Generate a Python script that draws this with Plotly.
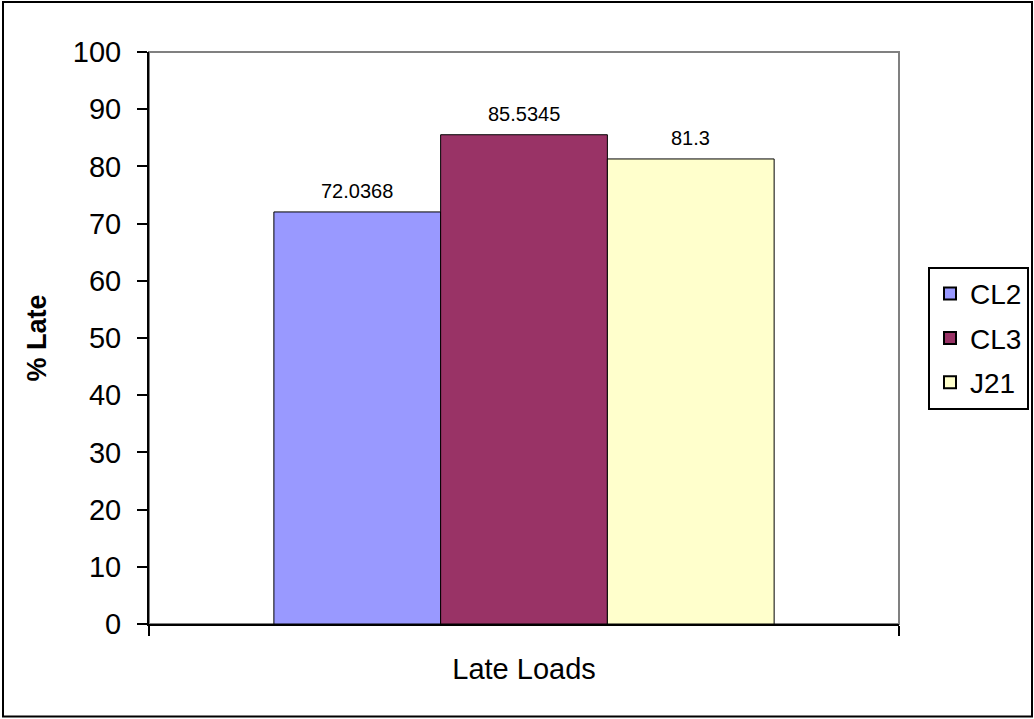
import plotly.graph_objects as go

# Share of late loads per carrier
category = ["Late Loads"]
series_names = ["CL2", "CL3", "J21"]
series_values = [72.0368, 85.5345, 81.3]
series_colors = ["#9999FF", "#993366", "#FFFFCC"]
y_ticks = [0, 10, 20, 30, 40, 50, 60, 70, 80, 90, 100]

FONT = "Liberation Sans, Arial, sans-serif"
BARGAP = 0.333

fig = go.Figure()
for name, val, col in zip(series_names, series_values, series_colors):
    fig.add_trace(go.Bar(
        name=name,
        legendgroup=name,
        x=category,
        y=[val],
        marker=dict(color=col, line=dict(color="black", width=1)),
    ))

# value labels above each bar, centred on the bar within the group
n = len(series_names)
bar_w = (1 - BARGAP) / n
annotations = []
for i, val in enumerate(series_values):
    annotations.append(dict(
        x=-(1 - BARGAP) / 2 + bar_w * (i + 0.5), y=val,
        xref="x", yref="y",
        text=f"{val:g}", showarrow=False,
        yanchor="bottom", yshift=8,
        font=dict(family=FONT, size=20, color="black"),
    ))

W, H = 1034, 719
L, R, T, B = 149, 135, 52, 94.5
pw, ph = W - L - R, H - T - B

def px_x(v):
    return (v - L) / pw

def px_y(v):
    return (H - B - v) / ph

fig.update_layout(
    width=W, height=H,
    margin=dict(l=L, r=R, t=T, b=B, pad=0, autoexpand=False),
    paper_bgcolor="white",
    plot_bgcolor="white",
    barmode="group",
    bargap=BARGAP,
    bargroupgap=0,
    font=dict(family=FONT, color="black"),
    showlegend=True,
    annotations=annotations,
    legend=dict(
        x=px_x(928), y=px_y(267), xanchor="left", yanchor="top",
        bordercolor="black", borderwidth=2,
        font=dict(family=FONT, size=28, color="black"),
        tracegroupgap=5,
        itemsizing="constant",
    ),
    xaxis=dict(
        type="category",
        tickson="boundaries",
        ticks="outside", ticklen=10, tickwidth=2, tickcolor="black",
        showline=True, linecolor="black", linewidth=2,
        showgrid=False, zeroline=False,
        tickfont=dict(family=FONT, size=29, color="black"),
        ticklabelstandoff=18,
    ),
    yaxis=dict(
        range=[0, 100],
        tickvals=y_ticks,
        ticks="outside", ticklen=10, tickwidth=2, tickcolor="black",
        showline=True, linecolor="black", linewidth=2,
        showgrid=False, zeroline=False,
        tickfont=dict(family=FONT, size=29, color="black"),
        ticklabelstandoff=10,
        title=dict(text="<b>% Late</b>", font=dict(family=FONT, size=27, color="black"), standoff=18),
    ),
    shapes=[
        # plot-area frame (grey), axis lines drawn on top in black
        dict(type="rect", xref="paper", yref="paper", x0=0, x1=1, y0=0, y1=1,
             line=dict(color="#808080", width=2), layer="below"),
        # outer chart border
        dict(type="rect", xref="paper", yref="paper",
             x0=px_x(3), x1=px_x(1032), y0=px_y(717), y1=px_y(2),
             line=dict(color="black", width=2), layer="above"),
    ],
)

fig.write_html("out.html")
